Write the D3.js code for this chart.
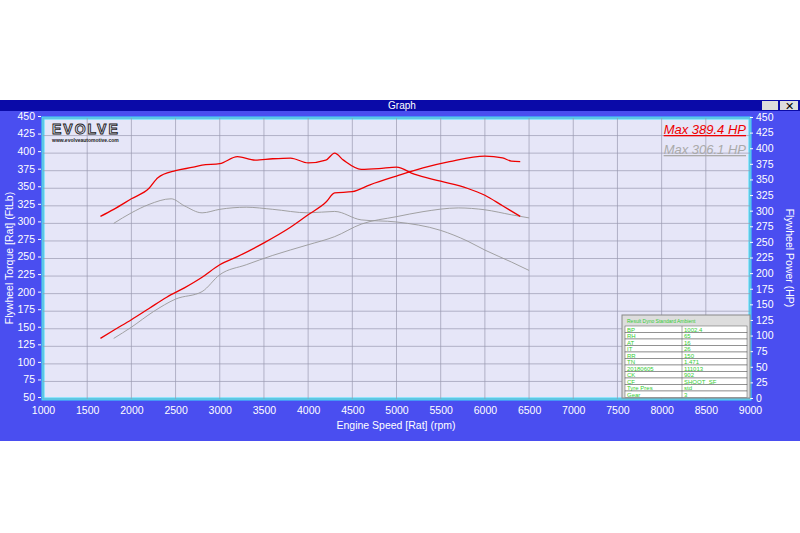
<!DOCTYPE html><html><head><meta charset="utf-8"><script src="https://cdn.jsdelivr.net/npm/d3@7"></script>
<style>body{margin:0;background:#fff;font-family:Arial,"Liberation Sans",sans-serif}</style></head><body><svg id="c" width="800" height="533"></svg>
<script>
const redTorqueRpm=[1650,1800,2000,2200,2300,2500,2700,2800,3000,3200,3400,3600,3800,4000,4200,4300,4400,4600,4800,5000,5200,5500,5800,6000,6200,6400];
const redTorque=[310,320,335,350,365,375,380,383,385,395,390,392,393,386,390,400,390,377,378,380,370,360,350,340,325,310];
const redPowerRpm=[1650,1800,2000,2200,2400,2600,2800,3000,3200,3500,3800,4000,4200,4300,4500,4700,5000,5300,5600,6000,6200,6300,6400];
const redPower=[97,110,127,145,163,178,195,215,228,250,275,295,315,330,332,343,357,370,380,389,386,381,380];
const grayTorqueRpm=[1800,2000,2200,2450,2600,2800,3000,3300,3600,4000,4300,4600,5000,5500,5800,6000,6300,6500];
const grayTorque=[300,315,327,335,325,315,320,323,320,315,317,305,302,290,275,262,245,233];
const grayPowerRpm=[1800,2000,2250,2500,2800,3000,3300,3600,4000,4300,4600,5000,5300,5700,6000,6300,6500];
const grayPower=[97,115,140,160,172,199,215,230,247,260,280,292,300,306,303,295,290];
const xTicks=d3.range(1000,9001,500), lTicks=d3.range(50,451,25), rTicks=d3.range(0,451,25);
const tableRows=[["BP","1002.4"],["RH","65"],["AT","16"],["IT","26"],["RR","150"],["TN","1.471"],["20180605","111013"],["CK","902"],["CF","SHOOT_SF"],["Tyre Pres","std"],["Gear","3"]];

const svg=d3.select("#c");
svg.append("rect").attr("x",0).attr("y",100).attr("width",800).attr("height",341).attr("fill","#4a4ef0");
svg.append("rect").attr("x",0).attr("y",100).attr("width",800).attr("height",11).attr("fill","#0a0aa8");
svg.append("text").attr("x",402).attr("y",109).attr("text-anchor","middle").attr("fill","#fff").attr("font-size",10).text("Graph");
svg.append("rect").attr("x",762).attr("y",101).attr("width",16).attr("height",9).attr("fill","#ddd");
svg.append("rect").attr("x",780).attr("y",101).attr("width",18).attr("height",9).attr("fill","#ddd");
svg.append("text").attr("x",789).attr("y",109.5).attr("text-anchor","middle").attr("font-size",11).text("✕");
const X=d3.scaleLinear([1000,9000],[43,750]), YL=d3.scaleLinear([50,450],[399,118]), YR=d3.scaleLinear([0,450],[399,118]);
svg.append("rect").attr("x",43).attr("y",118).attr("width",707).attr("height",281).attr("fill","#e6e6f8").attr("stroke","#3fe0ff").attr("stroke-width",3);
const g=svg.append("g");
xTicks.forEach(t=>g.append("line").attr("x1",X(t)).attr("x2",X(t)).attr("y1",118).attr("y2",399).attr("stroke","#9a9ab0").attr("stroke-width",0.7));
lTicks.forEach(t=>g.append("line").attr("x1",43).attr("x2",750).attr("y1",YL(t)).attr("y2",YL(t)).attr("stroke","#9a9ab0").attr("stroke-width",0.7));
const ax=(a)=>a.call(s=>s.select(".domain").remove()).call(s=>s.selectAll("text").attr("fill","#fff").attr("font-size",10.5).attr("font-family","Arial")).call(s=>s.selectAll("line").attr("stroke","#fff"));
svg.append("g").attr("transform","translate(0,403)").call(d3.axisBottom(X).tickValues(xTicks).tickSize(0).tickPadding(4).tickFormat(d3.format("d"))).call(ax);
svg.append("g").attr("transform","translate(41,-2)").call(d3.axisLeft(YL).tickValues(lTicks).tickSize(3).tickFormat(d3.format("d"))).call(ax);
svg.append("g").attr("transform","translate(750,-1)").call(d3.axisRight(YR).tickValues(rTicks).tickSize(3).tickFormat(d3.format("d"))).call(ax);
svg.append("text").attr("x",396).attr("y",429).attr("text-anchor","middle").attr("fill","#fff").attr("font-size",10.5).text("Engine Speed [Rat] (rpm)");
svg.append("text").attr("transform","translate(13,258) rotate(-90)").attr("text-anchor","middle").attr("fill","#fff").attr("font-size",10.5).text("Flywheel Torque [Rat] (FtLb)");
svg.append("text").attr("transform","translate(786,258) rotate(90)").attr("text-anchor","middle").attr("fill","#fff").attr("font-size",10.5).text("Flywheel Power (HP)");
const line=(xs,ys,y,c)=>svg.append("path").attr("d",d3.line().curve(d3.curveMonotoneX).x((d,i)=>X(xs[i])).y(d=>y(d))(ys)).attr("fill","none").attr("stroke",c).attr("stroke-width",c=="#e00"?1.3:0.9);
line(grayTorqueRpm,grayTorque,YL,"#999");line(grayPowerRpm,grayPower,YR,"#999");
line(redTorqueRpm,redTorque,YL,"#e00");line(redPowerRpm,redPower,YR,"#e00");
svg.append("text").attr("x",52).attr("y",134).attr("font-size",14).attr("font-weight","bold").attr("letter-spacing",2).attr("fill","none").attr("stroke","#222").attr("stroke-width",0.9).text("EVOLVE");
svg.append("text").attr("x",52).attr("y",142).attr("font-size",5).attr("font-weight","bold").attr("fill","#222").text("www.evolveautomotive.com");
svg.append("text").attr("x",746).attr("y",134).attr("text-anchor","end").attr("font-size",13).attr("font-style","italic").attr("fill","#e00").attr("text-decoration","underline").text("Max 389.4 HP");
svg.append("text").attr("x",746).attr("y",154).attr("text-anchor","end").attr("font-size",13).attr("font-style","italic").attr("fill","#aaa").attr("text-decoration","underline").text("Max 306.1 HP");
const tb=svg.append("g").attr("transform","translate(622,315)");
tb.append("rect").attr("width",128).attr("height",83).attr("fill","#ddd").attr("stroke","#888");
tb.append("text").attr("x",5).attr("y",8).attr("font-size",5).attr("fill","#3c3").text("Result Dyno Standard   Ambient");
tableRows.forEach((r,i)=>{const y=11+i*6.5;
 tb.append("rect").attr("x",3).attr("y",y).attr("width",122).attr("height",6.5).attr("fill","#fff").attr("stroke","#555").attr("stroke-width",0.5);
 tb.append("line").attr("x1",60).attr("x2",60).attr("y1",y).attr("y2",y+6.5).attr("stroke","#555").attr("stroke-width",0.5);
 tb.append("text").attr("x",5).attr("y",y+5.5).attr("font-size",6).attr("fill","#3c3").text(r[0]);
 tb.append("text").attr("x",62).attr("y",y+5.5).attr("font-size",6).attr("fill","#3c3").text(r[1]);});
</script></body></html>
